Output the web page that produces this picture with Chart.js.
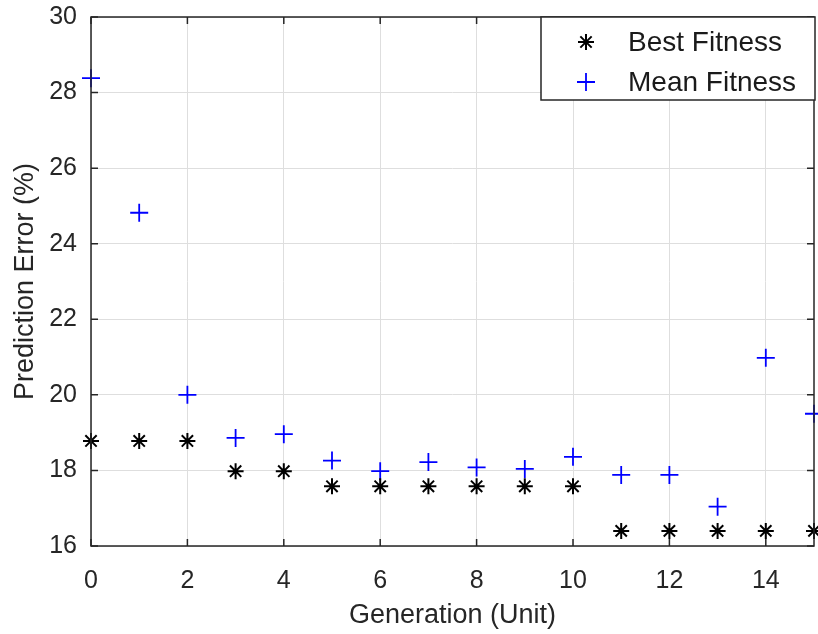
<!DOCTYPE html>
<html>
<head>
<meta charset="utf-8">
<script src="https://cdn.jsdelivr.net/npm/chart.js@4"></script>
<style>
  body { margin: 0; background: #fff; }
</style>
</head>
<body>
<canvas id="myChart" width="818" height="634"></canvas>
<script>
// generations and fitness values
const generations = [0, 1, 2, 3, 4, 5, 6, 7, 8, 9, 10, 11, 12, 13, 14, 15];
const bestFitness = [18.78, 18.78, 18.78, 17.98, 17.98, 17.58, 17.58, 17.58, 17.58, 17.58, 17.58, 16.4, 16.4, 16.4, 16.4, 16.4];
const meanFitness = [28.38, 24.82, 20.0, 18.86, 18.96, 18.26, 17.98, 18.22, 18.08, 18.04, 18.36, 17.88, 17.88, 17.04, 20.98, 19.5];
const seriesNames = ['Best Fitness', 'Mean Fitness'];
const xTitle = 'Generation (Unit)';
const yTitle = 'Prediction Error (%)';

const FONT = '"Liberation Sans", Arial, Helvetica, sans-serif';
const AXIS_COLOR = '#262626';

function toPoints(ys) {
    return generations.map((g, i) => ({ x: g, y: ys[i] }));
}

function drawMarker(ctx, style, x, y, r) {
    ctx.beginPath();
    ctx.moveTo(x - r, y); ctx.lineTo(x + r, y);
    ctx.moveTo(x, y - r); ctx.lineTo(x, y + r);
    if (style === 'star') {
        const d = r * Math.SQRT1_2;
        ctx.moveTo(x - d, y - d); ctx.lineTo(x + d, y + d);
        ctx.moveTo(x - d, y + d); ctx.lineTo(x + d, y - d);
    }
    ctx.stroke();
}

// MATLAB-like box, inner tick marks and boxed legend
const boxPlugin = {
    id: 'matlabBox',
    afterDraw(chart) {
        const ctx = chart.ctx;
        const a = chart.chartArea;
        const xs = chart.scales.x, ys = chart.scales.y;
        ctx.save();
        ctx.strokeStyle = AXIS_COLOR;
        ctx.lineWidth = 1.5;
        ctx.strokeRect(a.left, a.top, a.right - a.left, a.bottom - a.top);
        const tl = 7;
        ctx.beginPath();
        xs.ticks.forEach(t => {
            const px = xs.getPixelForValue(t.value);
            ctx.moveTo(px, a.bottom); ctx.lineTo(px, a.bottom - tl);
            ctx.moveTo(px, a.top); ctx.lineTo(px, a.top + tl);
        });
        ys.ticks.forEach(t => {
            const py = ys.getPixelForValue(t.value);
            ctx.moveTo(a.left, py); ctx.lineTo(a.left + tl, py);
            ctx.moveTo(a.right, py); ctx.lineTo(a.right - tl, py);
        });
        ctx.stroke();

        // legend
        const lw = 274, lh = 83;
        const lx = a.right - lw + 1, ly = a.top;
        ctx.fillStyle = '#fff';
        ctx.fillRect(lx, ly, lw, lh);
        ctx.lineWidth = 1.5;
        ctx.strokeStyle = AXIS_COLOR;
        ctx.strokeRect(lx, ly, lw, lh);
        ctx.font = '28px ' + FONT;
        ctx.textBaseline = 'middle';
        ctx.textAlign = 'left';
        chart.data.datasets.forEach((ds, i) => {
            const cy = ly + 25 + i * 40;
            ctx.strokeStyle = ds.borderColor;
            ctx.lineWidth = ds.borderWidth;
            drawMarker(ctx, ds.pointStyle, lx + 45, cy, ds.pointRadius);
            ctx.fillStyle = '#1a1a1a';
            ctx.fillText(ds.label, lx + 87, cy + 1);
        });
        ctx.restore();
    }
};

new Chart(document.getElementById('myChart').getContext('2d'), {
    type: 'scatter',
    data: {
        datasets: [{
            label: seriesNames[0],
            data: toPoints(bestFitness),
            pointStyle: 'star',
            pointRadius: 8,
            pointHoverRadius: 8,
            borderColor: '#000000',
            backgroundColor: '#000000',
            borderWidth: 2,
            clip: false
        }, {
            label: seriesNames[1],
            data: toPoints(meanFitness),
            pointStyle: 'cross',
            pointRadius: 9,
            pointHoverRadius: 9,
            borderColor: '#0000ff',
            backgroundColor: '#0000ff',
            borderWidth: 1.8,
            clip: false
        }]
    },
    options: {
        responsive: false,
        animation: false,
        events: [],
        layout: { autoPadding: false, padding: { top: 17, right: 4, left: 0, bottom: 0 } },
        plugins: {
            legend: { display: false },
            tooltip: { enabled: false }
        },
        scales: {
            x: {
                type: 'linear',
                position: 'bottom',
                min: 0,
                max: 15,
                afterFit(scale) {
                    scale.height = 88;
                    scale.paddingLeft = 0;
                    scale.paddingRight = 0;
                },
                ticks: {
                    stepSize: 2,
                    includeBounds: false,
                    color: AXIS_COLOR,
                    font: { family: FONT, size: 25 },
                    padding: 20,
                    maxRotation: 0
                },
                grid: { color: '#dedede', lineWidth: 1, drawTicks: false },
                border: { display: false },
                title: {
                    display: true,
                    text: xTitle,
                    color: AXIS_COLOR,
                    font: { family: FONT, size: 27 },
                    padding: { top: 2, bottom: 2 }
                }
            },
            y: {
                min: 16,
                max: 30,
                afterFit(scale) {
                    scale.width = 91;
                    scale.paddingTop = 0;
                    scale.paddingBottom = 0;
                },
                ticks: {
                    stepSize: 2,
                    color: AXIS_COLOR,
                    font: { family: FONT, size: 25 },
                    padding: 14
                },
                grid: { color: '#dedede', lineWidth: 1, drawTicks: false },
                border: { display: false },
                title: {
                    display: true,
                    text: yTitle,
                    color: AXIS_COLOR,
                    font: { family: FONT, size: 27 },
                    padding: { top: 9, bottom: 0 }
                }
            }
        }
    },
    plugins: [boxPlugin]
});
</script>
</body>
</html>
